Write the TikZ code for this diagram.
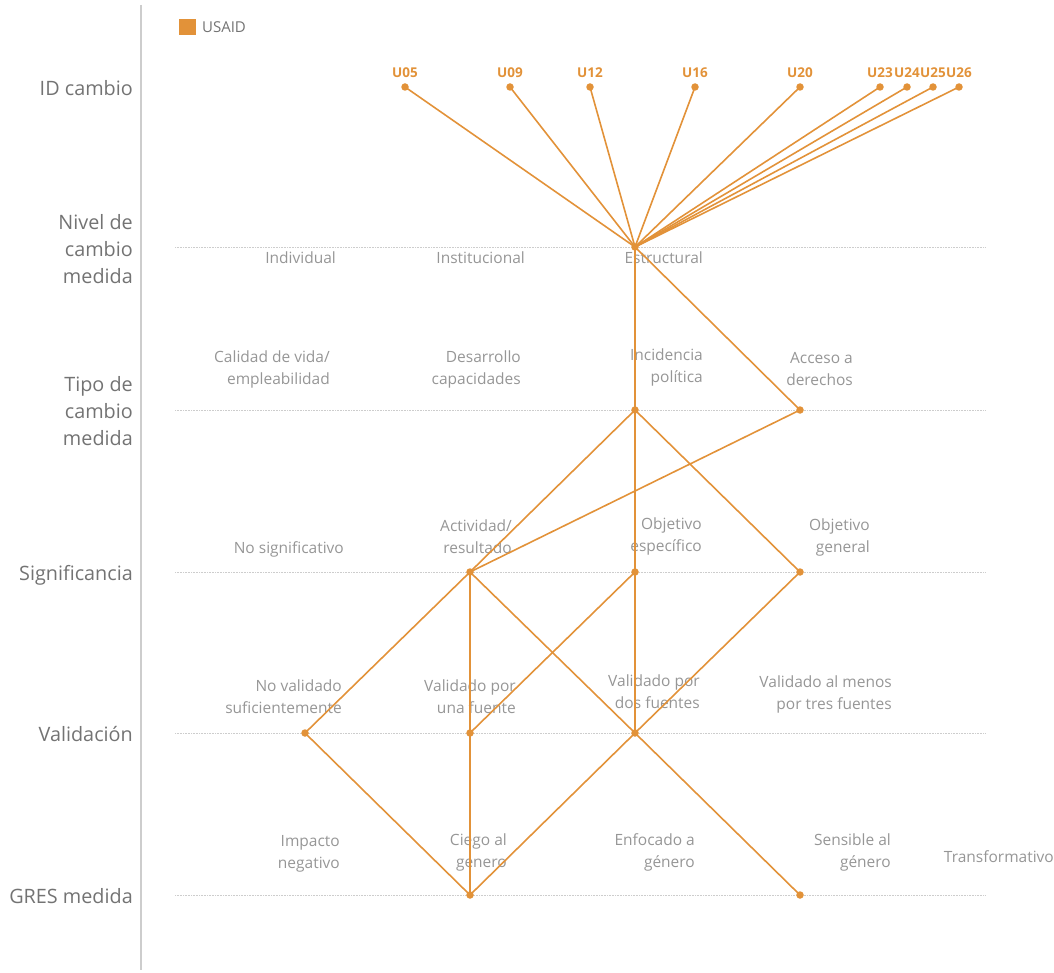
\documentclass[tikz,border=0pt]{standalone}
\usepackage{fontspec}
\setmainfont{Open Sans}
\usepackage{tikz}
\usetikzlibrary{calc,positioning}
\definecolor{usaid}{RGB}{226,146,57}
\definecolor{ejegris}{RGB}{205,205,205}
\definecolor{rotgris}{RGB}{115,115,115}
\definecolor{catgris}{RGB}{150,150,150}

\begin{document}
\begin{tikzpicture}[x=1pt,y=-1pt]
          \useasboundingbox (0,0) rectangle (1054,973);

          \tikzstyle{every edge}=[-,draw=usaid,line width=1.6pt]
          \tikzstyle{pto}=[circle,fill=usaid,inner sep=0pt,minimum size=7.5pt]
          \tikzstyle{fila}=[text=rotgris,font=\fontsize{19.8}{27}\selectfont,align=right,anchor=east,inner sep=0pt]
          \tikzstyle{cat}=[text=catgris,font=\fontsize{15.5}{22}\selectfont,align=right,anchor=east,inner sep=0pt]
          \tikzstyle{idlab}=[text=usaid,font=\fontsize{13.5}{14}\selectfont\bfseries,inner sep=0pt]
          \tikzstyle{guia}=[draw=ejegris,densely dotted,line width=0.6pt]

          % eje y leyenda
          \draw[ejegris,line width=2.5pt] (141,5) -- (141,970);
          \node[fill=usaid,minimum size=16.5pt,inner sep=0pt] (leg) at (187.5,27) {};
          \node[text=rotgris,font=\fontsize{15}{16}\selectfont,right=6pt of leg,inner sep=0pt] (legtxt) {USAID};

          % lineas guia
          \foreach \y in {247,410,572,733,895}{
            \draw[guia] (175,\y) -- (985,\y);
          }

          % titulos de fila
          \node[fila] (fID) at (133,88) {ID cambio};
          \node[fila] (fNiv) at (133,249) {Nivel de\\cambio\\medida};
          \node[fila] (fTipo) at (133,411) {Tipo de\\cambio\\medida};
          \node[fila] (fSig) at (133,575) {Significancia};
          \node[fila] (fVal) at (133,734) {Validación};
          \node[fila] (fGres) at (133,896) {GRES medida};

          % categorias
          \node[cat] (cInd) at (336,258) {Individual};
          \node[cat] (cIns) at (525,258) {Institucional};
          \node[cat] (cEst) at (703,258) {Estructural};
          \node[cat] (cCal) at (330,369) {Calidad de vida/\\empleabilidad};
          \node[cat] (cDes) at (521,369) {Desarrollo\\capacidades};
          \node[cat] (cInc) at (703,367) {Incidencia\\política};
          \node[cat] (cAcc) at (853,369) {Acceso a\\derechos};
          \node[cat] (cNos) at (344,549) {No significativo};
          \node[cat] (cAct) at (512,537) {Actividad/\\resultado};
          \node[cat] (cOesp) at (702,536) {Objetivo\\específico};
          \node[cat] (cOgen) at (870,537) {Objetivo\\general};
          \node[cat] (cNval) at (342,697) {No validado\\suficientemente};
          \node[cat] (cUna) at (516,697) {Validado por\\una fuente};
          \node[cat] (cDos) at (700,692) {Validado por\\dos fuentes};
          \node[cat] (cTres) at (892,694) {Validado al menos\\por tres fuentes};
          \node[cat] (cImp) at (340,854) {Impacto\\negativo};
          \node[cat] (cCie) at (507,852) {Ciego al\\genero};
          \node[cat] (cEnf) at (695,852) {Enfocado a\\género};
          \node[cat] (cSen) at (891,852) {Sensible al\\género};
          \node[cat] (cTra) at (1054,857) {Transformativo};

          % puntos
          \foreach \id/\x in {U05/405,U09/510,U12/590,U16/695,U20/800,U23/880,U24/907,U25/933,U26/959}{
            \node[pto] (\id) at (\x,87) {};
            \node[idlab,above=5pt of \id] (l\id) {\id};
          }
          \node[pto] (Estr) at (635,247) {};
          \node[pto] (Inc) at (635,410) {};
          \node[pto] (Acc) at (800,410) {};
          \node[pto] (Act) at (470,572) {};
          \node[pto] (Oesp) at (635,572) {};
          \node[pto] (Ogen) at (800,572) {};
          \node[pto] (Nval) at (305,733) {};
          \node[pto] (Una) at (470,733) {};
          \node[pto] (Dos) at (635,733) {};
          \node[pto] (Cie) at (470,895) {};
          \node[pto] (Sen) at (800,895) {};

          % conexiones
          \foreach \id in {U05,U09,U12,U16,U20,U23,U24,U25,U26}{
            \path (\id.center) edge (Estr.center);
          }
          \foreach \from/\to in {Estr/Inc,Estr/Acc,Inc/Act,Inc/Oesp,Inc/Ogen,Acc/Act,
            Act/Nval,Act/Una,Act/Dos,Oesp/Una,Oesp/Dos,Ogen/Dos,
            Nval/Cie,Una/Cie,Dos/Cie,Dos/Sen}{
            \path (\from.center) edge (\to.center);
          }
        \end{tikzpicture}
\end{document}
